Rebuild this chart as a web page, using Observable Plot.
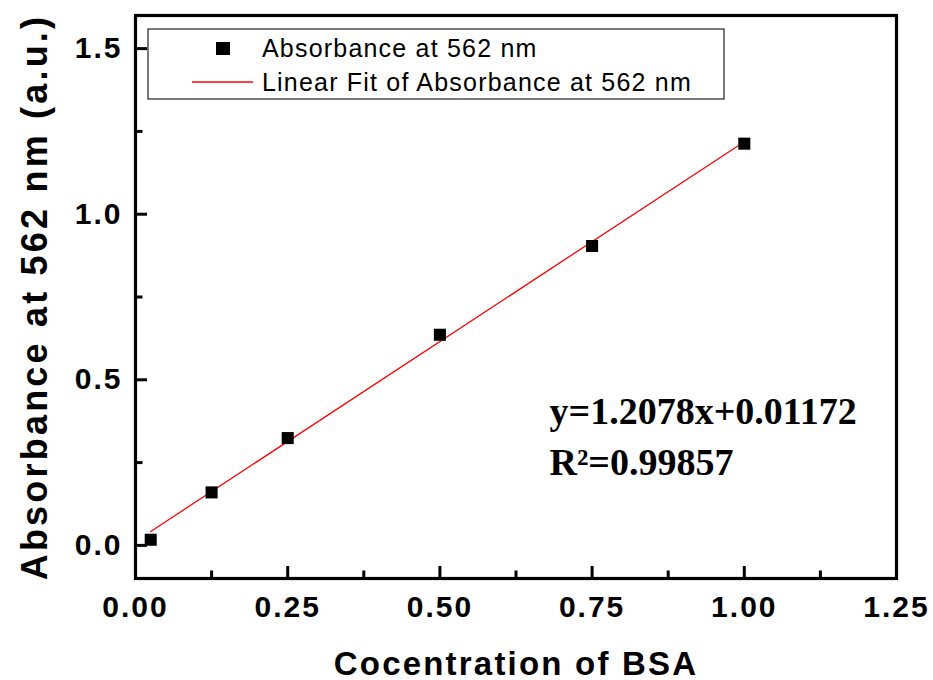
<!DOCTYPE html>
<html><head><meta charset="utf-8">
<script src="https://cdn.jsdelivr.net/npm/d3@7"></script>
<script src="https://cdn.jsdelivr.net/npm/@observablehq/plot@0.6"></script>
<style>body{margin:0;background:#fff}</style>
</head><body><div id="chart"></div>
<script>
const concentration = [0.025, 0.125, 0.25, 0.5, 0.75, 1.0];
const absorbance = [0.017, 0.160, 0.324, 0.636, 0.904, 1.213];
const fitConcentration = [0.025, 1.0];
const fitAbsorbance = [0.042, 1.219];
const xTickValues = [0, 0.25, 0.5, 0.75, 1.0, 1.25];
const xMinorTicks = [0.125, 0.375, 0.625, 0.875, 1.125];
const yTickValues = [0, 0.5, 1.0, 1.5];
const yMinorTicks = [0.25, 0.75, 1.25];
const xLabel = "Cocentration of BSA";
const yLabel = "Absorbance at 562 nm (a.u.)";
const legendLabels = ["Absorbance at 562 nm", "Linear Fit of Absorbance at 562 nm"];
const equationLines = ["y=1.2078x+0.01172", "R²=0.99857"];

const W = 933, H = 680, mL = 135, mR = 37, mT = 15, mB = 102;
const plotW = W - mL - mR, plotH = H - mT - mB;
const majorLen = 12, minorLen = 7.5;
const sans = "'Liberation Sans', Arial, sans-serif";
const serif = "'Liberation Serif', 'Times New Roman', serif";

const points = concentration.map((x, i) => ({x, y: absorbance[i]}));
const fit = fitConcentration.map((x, i) => ({x, y: fitAbsorbance[i]}));

const chart = Plot.plot({
  width: W, height: H,
  marginLeft: mL, marginRight: mR, marginTop: mT, marginBottom: mB,
  style: {fontFamily: sans, background: "#fff", color: "#000"},
  x: {domain: [0, 1.25]},
  y: {domain: [-0.1, 1.6]},
  marks: [
    Plot.axisX(xTickValues, {tickSize: 0, tickPadding: 17, tickFormat: d3.format(".2f"), fontSize: 30, fontWeight: "bold", label: null}),
    Plot.axisY(yTickValues, {tickSize: 0, tickPadding: 13, tickFormat: d3.format(".1f"), fontSize: 30, fontWeight: "bold", label: null}),
    Plot.ruleX(xTickValues, {x: d => d, insetTop: plotH - majorLen, strokeWidth: 3, stroke: "#000"}),
    Plot.ruleX(xMinorTicks, {x: d => d, insetTop: plotH - minorLen, strokeWidth: 3, stroke: "#000"}),
    Plot.ruleY(yTickValues, {y: d => d, insetRight: plotW - majorLen, strokeWidth: 3, stroke: "#000"}),
    Plot.ruleY(yMinorTicks, {y: d => d, insetRight: plotW - minorLen, strokeWidth: 3, stroke: "#000"}),
    Plot.line(fit, {x: "x", y: "y", stroke: "#ff0000", strokeWidth: 1.3}),
    Plot.dot(points, {x: "x", y: "y", symbol: "square", r: 6.8, fill: "#000", stroke: null}),
    Plot.frame({stroke: "#000", strokeWidth: 3.2}),
    Plot.text([xLabel], {text: d => d, frameAnchor: "bottom", dy: 96, textAnchor: "middle", lineAnchor: "bottom", fontSize: 33, fontWeight: "bold"}),
    Plot.text([yLabel], {text: d => d, frameAnchor: "left", dx: -89, rotate: -90, textAnchor: "middle", lineAnchor: "bottom", fontSize: 36, fontWeight: "bold"}),
    Plot.text([equationLines[0]], {text: d => d, frameAnchor: "top-left", dx: 414, dy: 408, textAnchor: "start", lineAnchor: "bottom", fontFamily: serif, fontSize: 38, fontWeight: "bold"}),
    Plot.text([equationLines[1]], {text: d => d, frameAnchor: "top-left", dx: 414, dy: 459, textAnchor: "start", lineAnchor: "bottom", fontFamily: serif, fontSize: 38, fontWeight: "bold"})
  ]
});

const svg = d3.select(chart);
const byText = s => svg.selectAll("text").filter(function () { return this.textContent === s; });
svg.selectAll('g[aria-label="x-axis tick label"] text, g[aria-label="y-axis tick label"] text')
  .style("letter-spacing", "2px");
byText(xLabel).style("letter-spacing", "2.2px");
byText(yLabel).style("letter-spacing", "3.2px");

const lg = svg.append("g").attr("font-family", sans).attr("font-size", 25).attr("fill", "#000")
  .attr("text-anchor", "start").attr("font-weight", "normal");
lg.append("rect").attr("x", 148).attr("y", 29).attr("width", 576).attr("height", 70)
  .attr("fill", "#fff").attr("stroke", "#333").attr("stroke-width", 1.3);
lg.append("rect").attr("x", 216).attr("y", 42).attr("width", 14).attr("height", 13).attr("fill", "#000");
lg.append("line").attr("x1", 192).attr("x2", 253).attr("y1", 82).attr("y2", 82)
  .attr("stroke", "#ff0000").attr("stroke-width", 1.3);
lg.append("text").attr("x", 262).attr("y", 57).style("letter-spacing", "1.2px").text(legendLabels[0]);
lg.append("text").attr("x", 262).attr("y", 91).style("letter-spacing", "1.2px").text(legendLabels[1]);

document.getElementById("chart").appendChild(chart);
</script>
</body></html>
